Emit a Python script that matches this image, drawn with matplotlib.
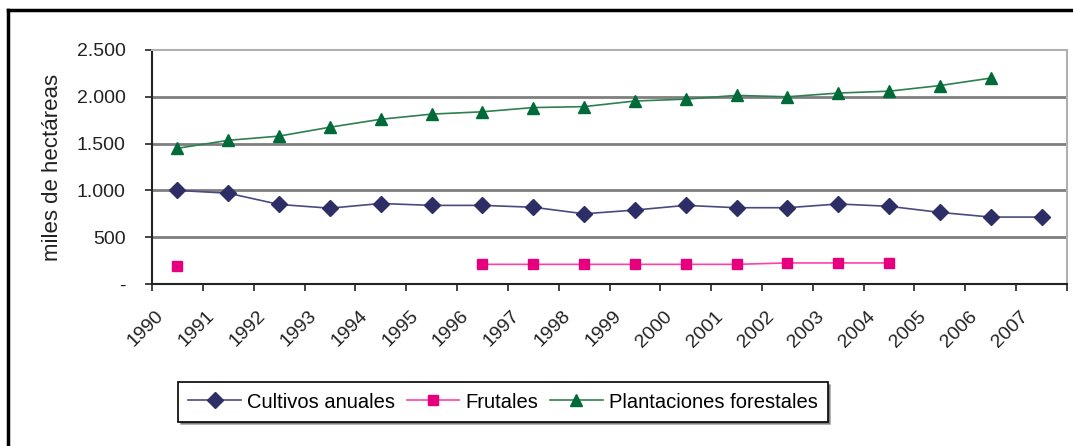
import numpy as np
import matplotlib
matplotlib.use('Agg')
from matplotlib import pyplot as plt
from matplotlib.lines import Line2D

plt.rcParams['font.family'] = ['Liberation Sans', 'DejaVu Sans']

years = [str(y) for y in range(1990, 2008)]
nan = np.nan
cultivos = [1000, 970, 850, 810, 860, 840, 840, 820, 750, 790, 840, 815, 815, 855, 830, 765, 715, 715]
frutales = [190, nan, nan, nan, nan, nan, 210, 210, 210, 210, 210, 210, 225, 225, 225, nan, nan, nan]
forestales = [1450, 1535, 1580, 1675, 1760, 1815, 1840, 1885, 1895, 1955, 1975, 2015, 2000, 2040, 2060, 2120, 2200, nan]
y_ticks = [0, 500, 1000, 1500, 2000, 2500]
y_labels = ['-', '500', '1.000', '1.500', '2.000', '2.500']

fig = plt.figure(figsize=(10.73, 4.46), dpi=100)
ax = fig.add_axes([152 / 1073, 1 - 284 / 446, (1067 - 152) / 1073, (284 - 50) / 446])

x = np.arange(len(years)) + 0.5
ax.plot(x, cultivos, color='#4a4a80', lw=1.2, marker='D', ms=8,
        mfc='#2e2e66', mec='#2e2e66', label='Cultivos anuales', zorder=3)
ax.plot(x, frutales, color='#ff3fa6', lw=1.2, marker='s', ms=7.5,
        mfc='#e6007e', mec='#e6007e', label='Frutales', zorder=3)
ax.plot(x, forestales, color='#2e8050', lw=1.2, marker='^', ms=9,
        mfc='#006b38', mec='#006b38', label='Plantaciones forestales', zorder=3)

ax.set_xlim(0, len(years))
ax.set_ylim(0, 2500)
for v in y_ticks[1:-1]:
    ax.axhline(v, color='#7f7f7f', lw=2, zorder=1)

ax.set_yticks(y_ticks)
ax.set_yticklabels(y_labels, fontsize=14, color='#222222')
# tick marks at category boundaries, labels slightly to the right of them
ax.set_xticks(np.arange(len(years) + 1))
ax.set_xticklabels([])
ax.set_xticks(np.arange(len(years)) + 0.3, minor=True)
ax.set_xticklabels(years, minor=True, fontsize=14, color='#222222',
                   rotation=45, ha='right', va='top')
ax.tick_params(axis='both', direction='out', length=5, width=1.2, color='#222222')
ax.tick_params(axis='x', which='minor', length=0, pad=17)
ax.tick_params(axis='y', pad=14)

for s in ['left', 'bottom']:
    ax.spines[s].set_color('#222222')
    ax.spines[s].set_linewidth(1.5)
for s in ['top', 'right']:
    ax.spines[s].set_color('#b0b0b0')
    ax.spines[s].set_linewidth(1.5)

ax.set_ylabel('miles de hectáreas', fontsize=16, color='#222222', labelpad=10)

leg = ax.legend(loc='center', bbox_to_anchor=(503 / 1073, 1 - 402 / 446),
                bbox_transform=fig.transFigure, ncol=3, fontsize=14.5,
                frameon=True, fancybox=False, shadow=True, handlelength=2.6,
                columnspacing=0.6, handletextpad=0.3, borderpad=0.5)
leg.get_frame().set_edgecolor('black')
leg.get_frame().set_linewidth(1.2)

# outer frame (left and top only)
fig.add_artist(Line2D([8 / 1073, 8 / 1073], [0, 1 - 10 / 446], color='black', lw=2.5,
                      transform=fig.transFigure))
fig.add_artist(Line2D([8 / 1073, 1], [1 - 10 / 446, 1 - 10 / 446], color='black', lw=2.5,
                      transform=fig.transFigure))

fig.savefig('out.png', dpi=100)
